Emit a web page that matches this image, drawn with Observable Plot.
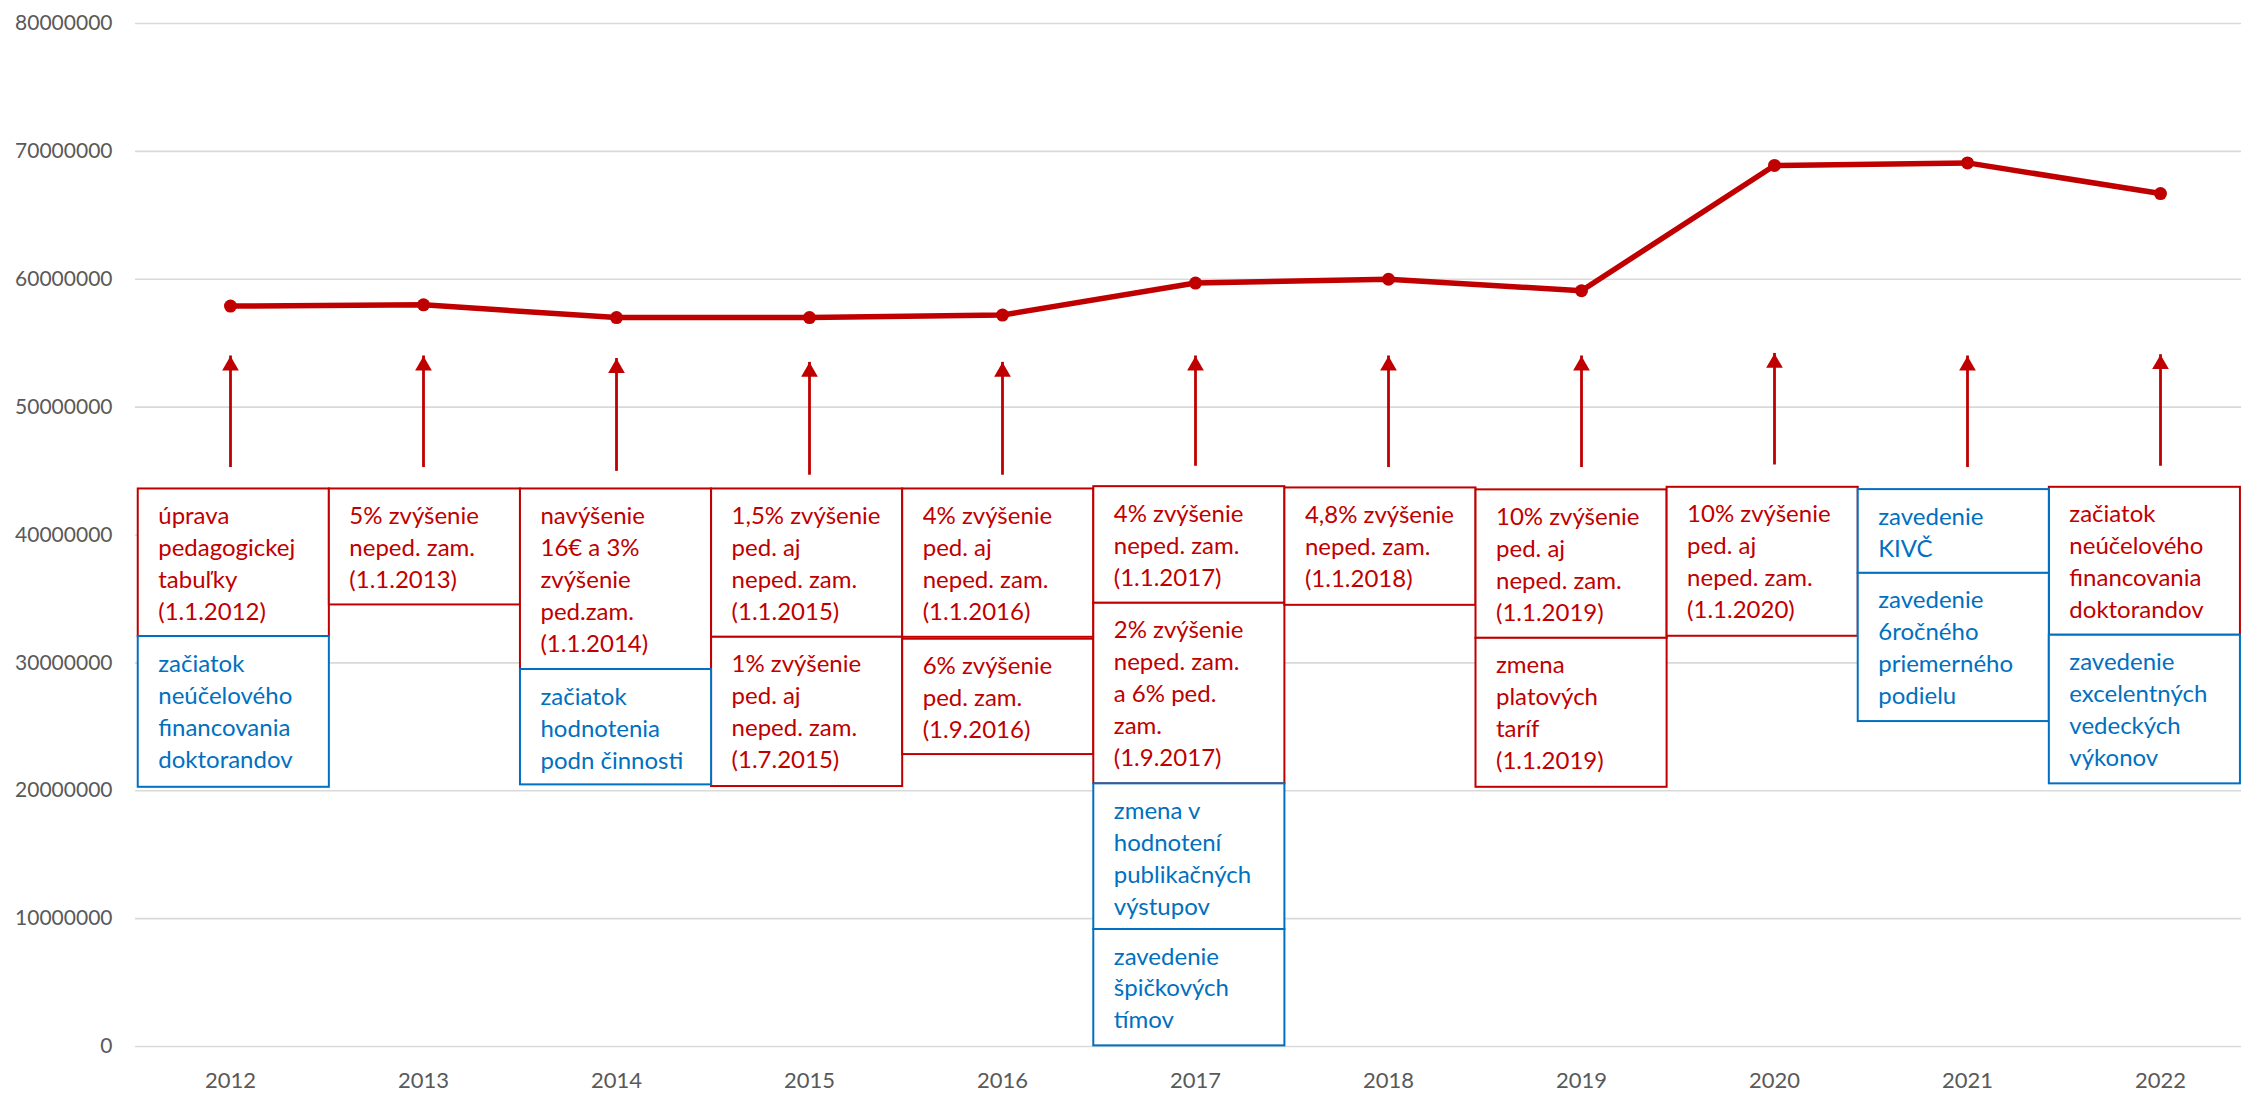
<!DOCTYPE html>
<html>
<head>
<meta charset="utf-8">
<script src="https://cdn.jsdelivr.net/npm/d3@7"></script>
<script src="https://cdn.jsdelivr.net/npm/@observablehq/plot@0.6"></script>
<style>
  html, body { margin: 0; padding: 0; background: #ffffff; }
  #chart svg { display: block; }
</style>
</head>
<body>
<div id="chart"></div>
<script>
// ---- data ----
const years  = [2012, 2013, 2014, 2015, 2016, 2017, 2018, 2019, 2020, 2021, 2022];
const values = [57900000, 58000000, 57000000, 57000000, 57200000, 59700000, 60000000, 59100000, 68900000, 69100000, 66700000];
const yTicks = [0, 10000000, 20000000, 30000000, 40000000, 50000000, 60000000, 70000000, 80000000];

// arrows (value positions on the y axis)
const arrowTail = [45900000, 45900000, 45600000, 45300000, 45300000, 46000000, 45900000, 45900000, 46100000, 45900000, 46000000];
const arrowTip  = [54000000, 54000000, 53800000, 53500000, 53500000, 54000000, 54000000, 54000000, 54200000, 54000000, 54100000];

// annotation boxes
const noteYear = [2012, 2012, 2013, 2014, 2014, 2015, 2015, 2016, 2016, 2017, 2017, 2017, 2017, 2018, 2019, 2019, 2020, 2021, 2021, 2022, 2022];
const noteKind = ["salary", "funding", "salary", "salary", "funding", "salary", "salary", "salary", "salary", "salary", "salary", "funding", "funding", "salary", "salary", "salary", "salary", "funding", "funding", "salary", "funding"];
const noteText = [
  "úprava\npedagogickej\ntabuľky\n(1.1.2012)",
  "začiatok\nneúčelového\nfinancovania\ndoktorandov",
  "5% zvýšenie\nneped. zam.\n(1.1.2013)",
  "navýšenie\n16€ a 3%\nzvýšenie\nped.zam.\n(1.1.2014)",
  "začiatok\nhodnotenia\npodn činnosti",
  "1,5% zvýšenie\nped. aj\nneped. zam.\n(1.1.2015)",
  "1% zvýšenie\nped. aj\nneped. zam.\n(1.7.2015)",
  "4% zvýšenie\nped. aj\nneped. zam.\n(1.1.2016)",
  "6% zvýšenie\nped. zam.\n(1.9.2016)",
  "4% zvýšenie\nneped. zam.\n(1.1.2017)",
  "2% zvýšenie\nneped. zam.\na 6% ped.\nzam.\n(1.9.2017)",
  "zmena v\nhodnotení\npublikačných\nvýstupov",
  "zavedenie\nšpičkových\ntímov",
  "4,8% zvýšenie\nneped. zam.\n(1.1.2018)",
  "10% zvýšenie\nped. aj\nneped. zam.\n(1.1.2019)",
  "zmena\nplatových\ntaríf\n(1.1.2019)",
  "10% zvýšenie\nped. aj\nneped. zam.\n(1.1.2020)",
  "zavedenie\nKIVČ",
  "zavedenie\n6ročného\npriemerného\npodielu",
  "začiatok\nneúčelového\nfinancovania\ndoktorandov",
  "zavedenie\nexcelentných\nvedeckých\nvýkonov"
];
const noteTop    = [43600000, 32060000, 43600000, 43600000, 29480000, 43600000, 32000000, 43600000, 31850000, 43780000, 34660000, 20540000, 9150000, 43680000, 43530000, 31920000, 43730000, 43550000, 37000000, 43730000, 32160000];
const noteBottom = [32060000, 20270000, 34530000, 29480000, 20460000, 32000000, 20330000, 32000000, 22830000, 34660000, 20540000, 9150000, 50000, 34500000, 31920000, 20270000, 32080000, 37000000, 25410000, 32160000, 20540000];

// ---- styling / layout ----
const RED = "#C00000";
const BLUE = "#0070C0";
const FONT = "Lato, 'Open Sans', sans-serif";
const NOTE_FS = 24;          // px
const NOTE_LH = 32 / NOTE_FS; // em
const colStart = 2011.522;   // left edge of first annotation column (x units)
const colW = 0.9902;         // annotation column width (x units)

const series = years.map((year, i) => ({year, value: values[i]}));
const arrows = years.map((year, i) => ({year, tail: arrowTail[i], tip: arrowTip[i]}));
const notes = noteText.map((text, i) => ({
  year: noteYear[i], kind: noteKind[i], text, top: noteTop[i], bottom: noteBottom[i],
  x1: colStart + colW * (noteYear[i] - years[0]),
  x2: colStart + colW * (noteYear[i] - years[0] + 1)
}));
const salary = notes.filter(d => d.kind === "salary");
const funding = notes.filter(d => d.kind === "funding");

function boxMarks(data, color) {
  return [
    Plot.rect(data, {x1: "x1", x2: "x2", y1: "bottom", y2: "top", fill: "white", stroke: color, strokeWidth: 2}),
    Plot.text(data, {
      x: "x1", y: "top", text: "text", fill: color,
      textAnchor: "start", lineAnchor: "top", lineHeight: NOTE_LH,
      fontSize: NOTE_FS, dx: 20, dy: 35 - 0.71 * NOTE_LH * NOTE_FS
    })
  ];
}

const chart = Plot.plot({
  width: 2241,
  height: 1093,
  marginLeft: 135,
  marginRight: 0,
  marginTop: 23,
  marginBottom: 47,
  style: {fontFamily: FONT, fontSize: "21px", color: "#595959", background: "#ffffff"},
  x: {type: "linear", domain: [2011.5, 2022.5], range: [133.5, 2256.5], label: null},
  y: {domain: [0, 80000000], label: null},
  marks: [
    Plot.gridY({ticks: yTicks, stroke: "#D9D9D9", strokeOpacity: 1, strokeWidth: 1.6}),
    Plot.axisY({ticks: yTicks, tickFormat: d3.format("d"), tickSize: 0, tickPadding: 23, fontSize: 21, fill: "#595959"}),
    Plot.axisX({ticks: years, tickFormat: d => String(d), tickSize: 0, tickPadding: 26, fontSize: 22, fill: "#595959"}),
    ...boxMarks(salary, RED),
    ...boxMarks(funding, BLUE),
    Plot.ruleX(arrows, {x: "year", y1: "tail", y2: "tip", stroke: RED, strokeWidth: 2.8, insetTop: 8}),
    Plot.dot(arrows, {x: "year", y: "tip", symbol: "triangle", r: 6.2, fill: RED, stroke: "none", dy: 9.6}),
    Plot.line(series, {x: "year", y: "value", stroke: RED, strokeWidth: 5.5, strokeLinejoin: "round"}),
    Plot.dot(series, {x: "year", y: "value", r: 6.5, fill: RED, stroke: "none"})
  ]
});

document.getElementById("chart").appendChild(chart);
</script>
</body>
</html>
